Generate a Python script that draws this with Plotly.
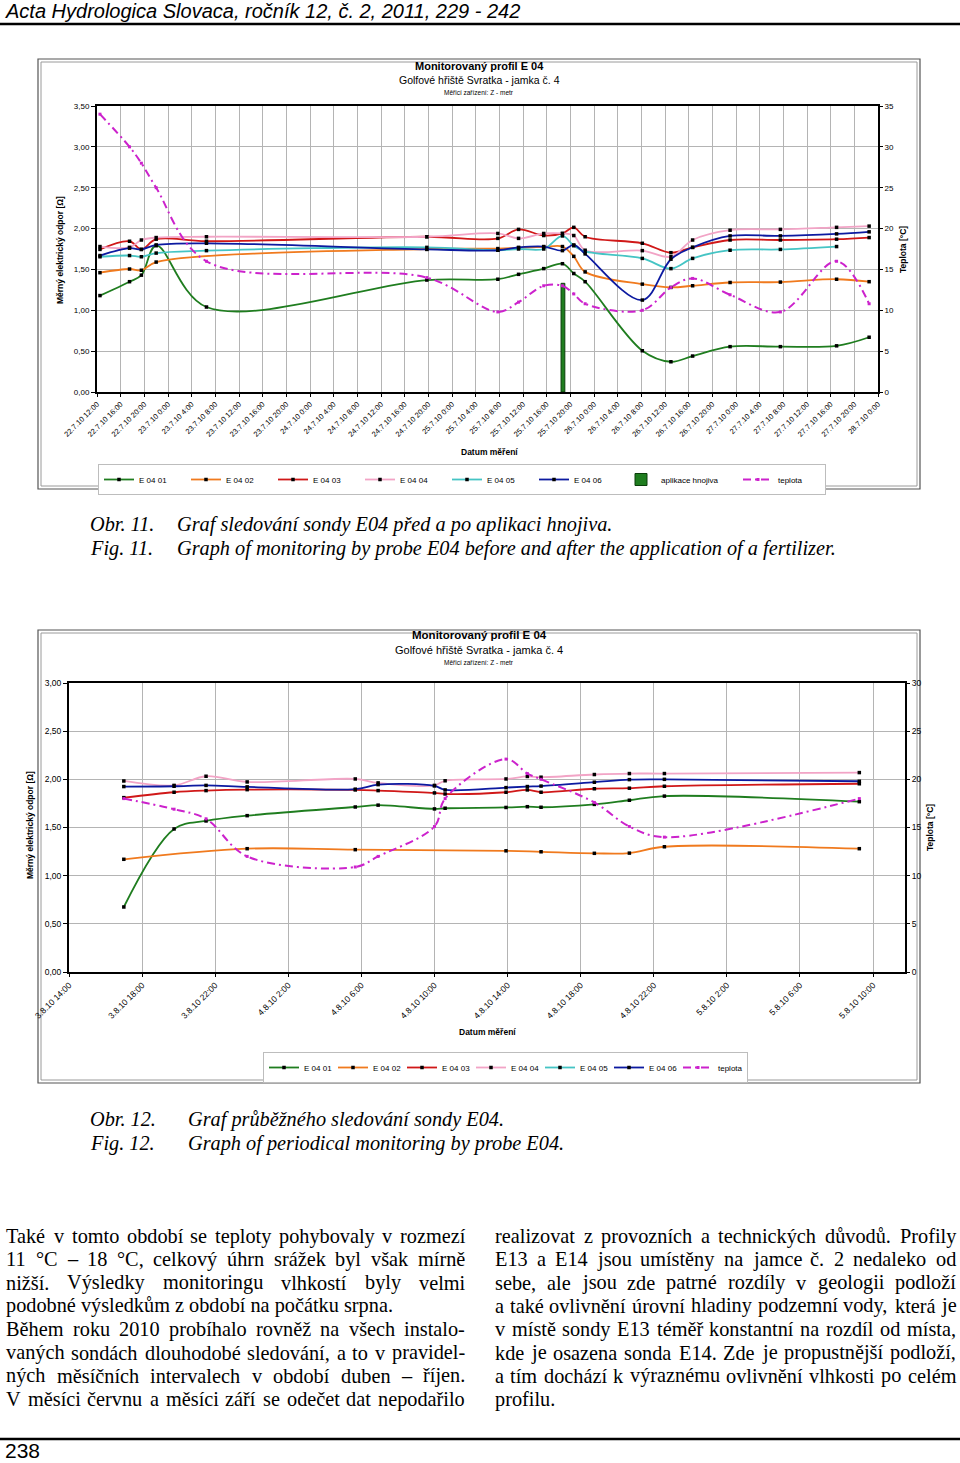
import unicodedata
import plotly.graph_objects as go

W, H = 960, 1463


def px(x):
    return x / W


def py(y):
    return 1 - y / H


# ---------------- Chart 1 data (22.7.-28.7.2010) ----------------
t1 = ["2010-07-22 12:30", "2010-07-22 17:30", "2010-07-22 19:30", "2010-07-22 22:00",
      "2010-07-23 06:30", "2010-07-24 19:45", "2010-07-25 07:45", "2010-07-25 11:15",
      "2010-07-25 15:30", "2010-07-25 18:40", "2010-07-25 20:35", "2010-07-25 22:30",
      "2010-07-26 08:10", "2010-07-26 13:00", "2010-07-26 16:40", "2010-07-26 23:00",
      "2010-07-27 07:30", "2010-07-27 17:00", "2010-07-27 22:30"]
c1_e01 = [1.18, 1.35, 1.43, 1.79, 1.04, 1.37, 1.38, 1.44, 1.51, 1.57, 1.45, 1.35,
          0.505, 0.37, 0.44, 0.555, 0.555, 0.565, 0.67]
c1_e02 = [1.46, 1.505, 1.49, 1.59, None, 1.75, 1.755, 1.765, 1.775, 1.78, 1.66, 1.47,
          1.32, 1.28, 1.30, 1.34, 1.345, 1.38, 1.35]
c1_e03 = [1.745, 1.845, 1.745, 1.87, 1.845, 1.90, 1.88, 1.99, 1.915, 1.94, 2.015, 1.90,
          1.82, 1.705, 1.77, 1.86, 1.86, 1.87, 1.89]
c1_e04 = [1.78, 1.77, 1.86, 1.89, 1.90, 1.90, 1.94, 1.88, 1.94, 1.94, 1.915, 1.735,
          1.73, 1.655, 1.86, 1.98, 1.99, 2.015, 2.03]
c1_e05 = [1.655, 1.67, 1.655, 1.70, 1.73, 1.77, 1.735, 1.75, 1.75, 1.91, 1.79, 1.72,
          1.635, 1.51, 1.635, 1.735, 1.745, 1.78, None]
c1_e06 = [1.67, 1.76, 1.745, 1.80, 1.82, 1.745, 1.735, 1.77, 1.78, 1.73, 1.80, 1.69,
          1.125, 1.625, 1.77, 1.91, 1.91, 1.935, 1.96]
c1_temp = [34, 30, 28, 25, 16, 14, 9.8, 11, 13, 13, 12, 10.8, 10, 12.8, 13.9, 11.9,
           9.8, 16, 10.8]
fert_time = ["2010-07-25 18:45"]
fert_value = [1.33]

# ---------------- Chart 2 data (3.8.-5.8.2010) ----------------
t2 = ["2010-08-03 17:00", "2010-08-03 19:45", "2010-08-03 21:30", "2010-08-03 23:45",
      "2010-08-04 05:40", "2010-08-04 06:55", "2010-08-04 10:00", "2010-08-04 10:35",
      "2010-08-04 13:55", "2010-08-04 15:05", "2010-08-04 15:50", "2010-08-04 18:45",
      "2010-08-04 20:40", "2010-08-04 22:35", "2010-08-05 09:15"]
c2_e01 = [0.675, 1.485, 1.568, 1.623, 1.713, 1.732, 1.693, 1.70, 1.708, 1.716, 1.71,
          1.74, 1.783, 1.826, 1.768]
c2_e02 = [1.17, None, None, 1.28, 1.27, None, None, None, 1.258, None, 1.248, 1.232,
          1.234, 1.30, 1.28]
c2_e03 = [1.81, 1.866, 1.883, 1.893, 1.89, 1.883, 1.859, 1.848, 1.866, 1.89, 1.866,
          1.902, 1.908, 1.928, 1.954]
c2_e04 = [1.983, 1.937, 2.032, 1.973, 2.004, 1.963, 1.937, 1.985, 2.004, 2.03, 2.022,
          2.05, 2.06, 2.06, 2.07]
c2_e05 = [None] * len(t2)
c2_e06 = [1.925, 1.928, 1.937, 1.922, 1.898, 1.945, 1.932, 1.89, 1.914, 1.925, 1.93,
          1.97, 1.997, 2.0, 1.98]
c2_temp = [18.0, 16.9, 15.9, 12.0, 10.9, 12.0, 15.1, 18.0, 22.1, 20.6, 20.0, 17.6,
           15.1, 14.0, 18.0]

series_names = ["E 04 01", "E 04 02", "E 04 03", "E 04 04", "E 04 05", "E 04 06"]
series_colors = ["#1f7d1f", "#f07a1e", "#d01818", "#f2a4c6", "#45c4c4", "#0c1aa0"]
temp_color = "#cc22cc"
fert_color = "#1f7d1f"

SANS = "Liberation Sans, Arial, sans-serif"
SERIF = "Liberation Serif, Times New Roman, serif"

fig = go.Figure()

# chart 1 traces
for name, col, vals in zip(series_names, series_colors,
                           [c1_e01, c1_e02, c1_e03, c1_e04, c1_e05, c1_e06]):
    fig.add_trace(go.Scatter(
        x=t1, y=vals, name=name, mode="lines+markers", connectgaps=True,
        line=dict(color=col, width=1.8, shape="spline", smoothing=1.0),
        marker=dict(symbol="square", size=3.5, color="black"),
        xaxis="x", yaxis="y", legend="legend"))
fig.add_trace(go.Bar(
    x=fert_time, y=fert_value, width=[2.3e6], name="aplikace hnojiva",
    marker=dict(color=fert_color, line=dict(color="#0a3f0a", width=1)),
    xaxis="x", yaxis="y", legend="legend", legendwidth=72))
fig.add_trace(go.Scatter(
    x=t1, y=c1_temp, name="teplota", mode="lines+markers",
    line=dict(color=temp_color, width=2, dash="8px,4px,2px,4px", shape="spline", smoothing=1.0),
    marker=dict(symbol="square", size=3, color=temp_color),
    xaxis="x", yaxis="y2", legend="legend"))

# chart 2 traces
for name, col, vals in zip(series_names, series_colors,
                           [c2_e01, c2_e02, c2_e03, c2_e04, c2_e05, c2_e06]):
    fig.add_trace(go.Scatter(
        x=t2, y=vals, name=name, mode="lines+markers", connectgaps=True,
        line=dict(color=col, width=1.8, shape="spline", smoothing=1.0),
        marker=dict(symbol="square", size=3.5, color="black"),
        xaxis="x2", yaxis="y3", legend="legend2"))
fig.add_trace(go.Scatter(
    x=t2, y=c2_temp, name="teplota", mode="lines+markers",
    line=dict(color=temp_color, width=2, dash="8px,4px,2px,4px", shape="spline", smoothing=1.0),
    marker=dict(symbol="square", size=3, color=temp_color),
    xaxis="x2", yaxis="y4", legend="legend2"))

grid = "#b4b4b4"
common_x = dict(type="date", dtick=4 * 3600 * 1000, tickformat="%-d.%-m.%y %-H:%M",
                tickangle=-45, showgrid=True, gridcolor=grid, gridwidth=1,
                showline=True, linecolor="black", linewidth=2, mirror=True,
                ticks="outside", ticklen=3, tickcolor="black", zeroline=False,
                automargin=False)
common_y = dict(showgrid=True, gridcolor=grid, gridwidth=1, showline=True,
                linecolor="black", linewidth=2, mirror=True, ticks="outside",
                ticklen=4, tickcolor="black", zeroline=False, automargin=False,
                tickformat=".2f")
right_y = dict(showgrid=False, showline=False, ticks="outside", ticklen=4,
               tickcolor="black", zeroline=False, automargin=False, side="right",
               tickformat="d")

fig.update_layout(
    width=W, height=H, autosize=False,
    margin=dict(l=0, r=0, t=0, b=0, pad=0),
    paper_bgcolor="white", plot_bgcolor="white",
    separators=",.",
    showlegend=True,
    font=dict(family=SANS, color="black", size=8),
    xaxis=dict(common_x, domain=[px(97), px(878)], anchor="y",
               range=["2010-07-22 12:00", "2010-07-28 00:00"],
               tickfont=dict(size=7.5, family=SANS)),
    yaxis=dict(common_y, domain=[py(392), py(106)], anchor="x", range=[0, 3.5],
               dtick=0.5, tickfont=dict(size=8, family=SANS)),
    yaxis2=dict(right_y, overlaying="y", anchor="x", range=[0, 35], dtick=5,
                tickfont=dict(size=8, family=SANS)),
    xaxis2=dict(common_x, domain=[px(69), px(905)], anchor="y3",
                range=["2010-08-03 14:00", "2010-08-05 11:45"], tick0="2010-08-03 14:00",
                tickfont=dict(size=8.5, family=SANS)),
    yaxis3=dict(common_y, domain=[py(972), py(683)], anchor="x2", range=[0, 3.0],
                dtick=0.5, tickfont=dict(size=8.5, family=SANS)),
    yaxis4=dict(right_y, overlaying="y3", anchor="x2", range=[0, 30], dtick=5,
                tickfont=dict(size=8.5, family=SANS)),
    legend=dict(orientation="h", x=px(98), y=py(464), xanchor="left", yanchor="top",
                bordercolor="#bdbdbd", borderwidth=1, bgcolor="white",
                font=dict(size=8, family=SANS), entrywidth=42, entrywidthmode="pixels",
                tracegroupgap=0, traceorder="normal"),
    legend2=dict(orientation="h", x=px(263), y=py(1052), xanchor="left", yanchor="top",
                 bordercolor="#bdbdbd", borderwidth=1, bgcolor="white",
                 font=dict(size=8, family=SANS), entrywidth=24, entrywidthmode="pixels",
                 tracegroupgap=0, traceorder="normal"),
)

shapes = []


def line_shape(x0, y0, x1, y1, color="black", width=1):
    shapes.append(dict(type="line", xref="paper", yref="paper", x0=px(x0), x1=px(x1),
                       y0=py(y0), y1=py(y1), line=dict(color=color, width=width)))


def rect_shape(x0, y0, x1, y1, color, width):
    shapes.append(dict(type="rect", xref="paper", yref="paper", x0=px(x0), x1=px(x1),
                       y0=py(y1), y1=py(y0), line=dict(color=color, width=width),
                       fillcolor="rgba(0,0,0,0)", layer="below"))


line_shape(0, 24, 960, 24, width=2.5)
line_shape(0, 1439, 960, 1439, width=2.5)
rect_shape(38, 59, 920, 489, "#555555", 1.2)
rect_shape(41, 62, 917, 486, "#9a9a9a", 1)
rect_shape(38, 630, 920, 1083, "#555555", 1.2)
rect_shape(41, 633, 917, 1080, "#9a9a9a", 1)
fig.update_layout(shapes=shapes)

annotations = []


def text(x, y, s, size, family=SANS, xanchor="left", bold=False, italic=False,
         angle=0, color="black"):
    if bold:
        s = "<b>" + s + "</b>"
    if italic:
        s = "<i>" + s + "</i>"
    annotations.append(dict(xref="paper", yref="paper", x=px(x), y=py(y), text=s,
                            showarrow=False, xanchor=xanchor, yanchor="middle",
                            textangle=angle, borderpad=0,
                            font=dict(size=size, family=family, color=color)))


# header and page number
text(4, 11, "Acta Hydrologica Slovaca, ročník 12, č. 2, 2011, 229 - 242", 20,
     family="Liberation Sans Narrow, Liberation Sans, Arial, sans-serif", italic=True)
text(4, 1450, "238", 21, family="Liberation Sans Narrow, Liberation Sans, Arial, sans-serif")

# chart titles
text(479, 66, "Monitorovaný profil E 04", 11, bold=True, xanchor="center")
text(479, 80, "Golfové hřiště Svratka - jamka č. 4", 10.5, xanchor="center")
text(479, 92, "Měřicí zařízení: Z - metr", 6.5, xanchor="center")
text(479, 635, "Monitorovaný profil E 04", 11.5, bold=True, xanchor="center")
text(479, 650, "Golfové hřiště Svratka - jamka č. 4", 11, xanchor="center")
text(479, 662, "Měřicí zařízení: Z - metr", 6.5, xanchor="center")

# axis titles
text(60, 250, "Měrný elektrický odpor [Ω]", 8.5, bold=True, xanchor="center", angle=-90)
text(903, 250, "Teplota [°C]", 8.5, bold=True, xanchor="center", angle=-90)
text(489, 452, "Datum měření", 8.5, bold=True, xanchor="center")
text(30, 825, "Měrný elektrický odpor [Ω]", 8.5, bold=True, xanchor="center", angle=-90)
text(930, 828, "Teplota [°C]", 8.5, bold=True, xanchor="center", angle=-90)
text(487, 1032, "Datum měření", 8.5, bold=True, xanchor="center")

# captions
CAP = 20.3
text(89, 524, "Obr. 11.", CAP, family=SERIF, italic=True)
text(176, 524, "Graf sledování sondy E04 před a po aplikaci hnojiva.", CAP, family=SERIF, italic=True)
text(89, 548, "Fig. 11.", CAP, family=SERIF, italic=True)
text(176, 548, "Graph of monitoring by probe E04 before and after the application of a fertilizer.",
     CAP, family=SERIF, italic=True)
text(89, 1119, "Obr. 12.", CAP, family=SERIF, italic=True)
text(187, 1119, "Graf průběžného sledování sondy E04.", CAP, family=SERIF, italic=True)
text(89, 1143, "Fig. 12.", CAP, family=SERIF, italic=True)
text(187, 1143, "Graph of periodical monitoring by probe E04.", CAP, family=SERIF, italic=True)

# body text (justified, Times metrics)
TNR = {" ": 250, ".": 250, ",": 250, "-": 333, ":": 278, ";": 278, "–": 500, "°": 400,
       "(": 333, ")": 333,
       "A": 722, "B": 667, "C": 667, "D": 722, "E": 611, "F": 556, "G": 722, "H": 722,
       "I": 333, "J": 389, "K": 722, "L": 611, "M": 889, "N": 722, "O": 722, "P": 556,
       "Q": 722, "R": 667, "S": 556, "T": 611, "U": 722, "V": 722, "W": 944, "X": 722,
       "Y": 722, "Z": 611,
       "a": 444, "b": 500, "c": 444, "d": 500, "e": 444, "f": 333, "g": 500, "h": 500,
       "i": 278, "j": 278, "k": 500, "l": 278, "m": 778, "n": 500, "o": 500, "p": 500,
       "q": 500, "r": 333, "s": 389, "t": 278, "u": 500, "v": 500, "w": 722, "x": 500,
       "y": 500, "z": 444}


def tw(s, size):
    tot = 0
    for ch in s:
        if ch in TNR:
            tot += TNR[ch]
        elif ch.isdigit():
            tot += 500
        else:
            base = unicodedata.normalize("NFD", ch)[0]
            tot += TNR.get(base, 500)
    return tot * size / 1000.0


left_lines = [
    ("Také v tomto období se teploty pohybovaly v rozmezí", True),
    ("11 °C – 18 °C, celkový úhrn srážek byl však mírně", True),
    ("nižší. Výsledky monitoringu vlhkostí byly velmi", True),
    ("podobné výsledkům z období na počátku srpna.", False),
    ("Během roku 2010 probíhalo rovněž na všech instalo-", True),
    ("vaných sondách dlouhodobé sledování, a to v pravidel-", True),
    ("ných měsíčních intervalech v období duben – říjen.", True),
    ("V měsíci červnu a měsíci září se odečet dat nepodařilo", True),
]
right_lines = [
    ("realizovat z provozních a technických důvodů. Profily", True),
    ("E13 a E14 jsou umístěny na jamce č. 2 nedaleko od", True),
    ("sebe, ale jsou zde patrné rozdíly v geologii podloží", True),
    ("a také ovlivnění úrovní hladiny podzemní vody, která je", True),
    ("v místě sondy E13 téměř konstantní na rozdíl od místa,", True),
    ("kde je osazena sonda E14. Zde je propustnější podloží,", True),
    ("a tím dochází k výraznému ovlivnění vlhkosti po celém", True),
    ("profilu.", False),
]

# body font size: as in the reference, but small enough for every justified line to fit
BODY = 20.3
for ln, just in left_lines + right_lines:
    if just:
        words = ln.split(" ")
        em = sum(tw(w, 1.0) for w in words)
        BODY = min(BODY, (459 - 3.5 * (len(words) - 1)) / em)


def column(lines, x0, x1, y0, dy):
    for i, (ln, just) in enumerate(lines):
        y = y0 + i * dy
        if not just:
            text(x0, y, ln, BODY, family=SERIF)
            continue
        words = ln.split(" ")
        widths = [tw(w, BODY) for w in words]
        gap = (x1 - x0 - sum(widths)) / (len(words) - 1)
        x = x0
        for w, wd in zip(words, widths):
            text(x, y, w, BODY, family=SERIF)
            x += wd + gap


column(left_lines, 5, 464, 1236, 23.3)
column(right_lines, 494, 955, 1236, 23.3)

fig.update_layout(annotations=annotations)

fig.write_html("out.html",
               config={"displayModeBar": False},
               post_script="document.body.style.margin='0px';"
                           "document.body.style.overflow='hidden';")
